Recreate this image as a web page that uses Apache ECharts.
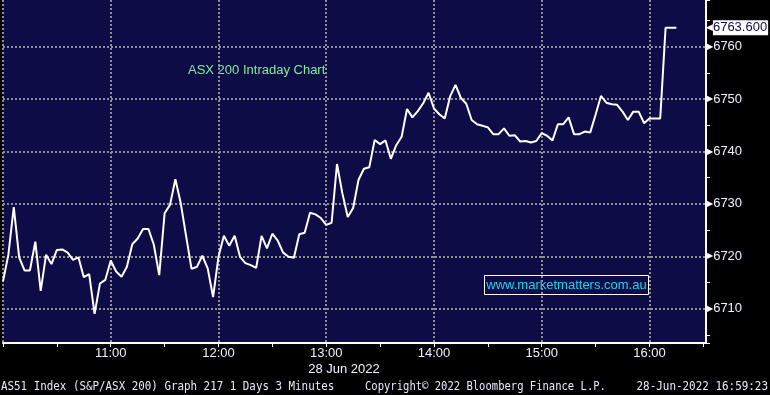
<!DOCTYPE html>
<html>
<head>
<meta charset="utf-8">
<script src="https://cdn.jsdelivr.net/npm/echarts@6/dist/echarts.min.js"></script>
<style>
html,body{margin:0;padding:0;background:#000;}
#chart{width:770px;height:395px;}
</style>
</head>
<body>
<div id="chart"></div>
<script>
// 3-minute bars, 28 Jun 2022
var times = [
'10:00','10:03','10:06','10:09','10:12','10:15','10:18','10:21','10:24','10:27',
'10:30','10:33','10:36','10:39','10:42','10:45','10:48','10:51','10:54','10:57',
'11:00','11:03','11:06','11:09','11:12','11:15','11:18','11:21','11:24','11:27',
'11:30','11:33','11:36','11:39','11:42','11:45','11:48','11:51','11:54','11:57',
'12:00','12:03','12:06','12:09','12:12','12:15','12:18','12:21','12:24','12:27',
'12:30','12:33','12:36','12:39','12:42','12:45','12:48','12:51','12:54','12:57',
'13:00','13:03','13:06','13:09','13:12','13:15','13:18','13:21','13:24','13:27',
'13:30','13:33','13:36','13:39','13:42','13:45','13:48','13:51','13:54','13:57',
'14:00','14:03','14:06','14:09','14:12','14:15','14:18','14:21','14:24','14:27',
'14:30','14:33','14:36','14:39','14:42','14:45','14:48','14:51','14:54','14:57',
'15:00','15:03','15:06','15:09','15:12','15:15','15:18','15:21','15:24','15:27',
'15:30','15:33','15:36','15:39','15:42','15:45','15:48','15:51','15:54','15:57',
'16:00','16:03','16:06','16:09','16:12','16:15'
];
var prices = [
6715.2,6720.3,6729.4,6719.8,6717.3,6717.3,6722.8,6713.4,6720.3,6718.5,
6721.2,6721.3,6720.7,6719.3,6719.8,6716.0,6716.6,6709.0,6714.8,6715.5,
6719.2,6717.1,6716.1,6718.0,6722.3,6723.4,6725.2,6725.2,6722.2,6716.4,
6728.2,6729.8,6734.7,6730.1,6723.8,6717.6,6718.0,6720.1,6717.7,6712.2,
6719.9,6723.9,6722.0,6723.9,6719.9,6718.7,6718.3,6717.8,6723.9,6721.5,
6724.3,6723.0,6720.7,6719.9,6719.7,6724.2,6724.5,6728.3,6728.0,6727.3,
6726.0,6726.4,6737.6,6732.0,6727.5,6729.2,6734.6,6736.7,6737.0,6742.2,
6741.4,6742.1,6738.6,6741.2,6742.8,6748.1,6746.5,6747.7,6749.2,6751.2,
6748.2,6747.1,6746.3,6750.5,6752.7,6750.2,6749.1,6746.0,6745.2,6744.9,
6744.6,6743.3,6743.3,6744.4,6743.0,6743.1,6741.9,6742.0,6741.7,6742.0,
6743.5,6743.0,6742.1,6745.2,6745.2,6746.5,6743.3,6743.3,6743.8,6743.6,
6747.0,6750.6,6749.3,6749.0,6748.9,6747.6,6746.0,6747.6,6747.6,6745.4,
6746.3,6746.3,6746.3,6763.6,6763.6,6763.6
];
var xStart = '10:00';
var xEnd = '16:31.5';
var yMin = 6703.45;
var yMax = 6768.9;
var titleText = 'ASX 200 Intraday Chart';
var watermarkText = 'www.marketmatters.com.au';
var dateText = '28 Jun 2022';
var footerLeft = 'AS51 Index (S&P/ASX 200) Graph 217 1 Days 3 Minutes';
var footerMid = 'Copyright\u00a9 2022 Bloomberg Finance L.P.';
var footerRight = '28-Jun-2022 16:59:23';

function toMin(t){ var p = t.split(':'); return (parseInt(p[0],10)-10)*60 + parseFloat(p[1]); }
function fmtHour(m){ var h = 10 + Math.round(m/60); return h + ':00'; }

var seriesData = times.map(function(t,i){ return [toMin(t), prices[i]]; });
var lastPrice = prices[prices.length-1];

var NAVY = '#0e0c46';
var GRIDC = '#8e8e96';
var FOOTFONT = '13px "DejaVu Sans Mono", monospace';
var chart = echarts.init(document.getElementById('chart'), null, {renderer:'canvas'});
chart.setOption({
  backgroundColor: '#000',
  animation: false,
  grid: {left:0, right:64, top:0, bottom:52, show:true, backgroundColor:NAVY, borderWidth:0, containLabel:false},
  xAxis: {
    type:'value', min: toMin(xStart), max: toMin(xEnd), interval: 30,
    axisLine:{show:true, onZero:false, lineStyle:{color:'#fff', width:2}},
    axisTick:{show:true, length:4, lineStyle:{color:'#fff', width:1}},
    axisLabel:{
      show:true, margin:4, color:'#eef3ff', fontSize:13, fontFamily:'Liberation Sans, Arial, sans-serif',
      showMaxLabel:false,
      formatter:function(v){ return (v>0 && v%60===0) ? fmtHour(v) : ''; }
    },
    splitLine:{show:true, showMaxLine:false, lineStyle:{color:[GRIDC,'rgba(0,0,0,0)'], width:2, type:[2,2]}}
  },
  yAxis: [{
    type:'value', position:'right', min:yMin, max:yMax,
    axisLine:{show:true, onZero:false, lineStyle:{color:'#fff', width:2}},
    axisTick:{show:false},
    axisLabel:{
      show:true, margin:1, showMinLabel:false, showMaxLabel:false,
      formatter:function(v){ return (Math.abs(v%10)<1e-6) ? '{a|\u25B6}{b|' + v + '}' : ''; },
      rich:{
        a:{color:'#fff', fontSize:8, fontFamily:'DejaVu Sans'},
        b:{color:'#eef3ff', fontSize:13, fontFamily:'Liberation Sans, Arial, sans-serif'}
      }
    },
    splitLine:{show:true, showMinLine:false, showMaxLine:false, lineStyle:{color:GRIDC, width:2, type:[2,2]}}
  }, {
    type:'value', position:'right', min:yMin, max:yMax, splitNumber:13,
    axisLine:{show:false, onZero:false},
    axisTick:{show:true, inside:false, length:4, lineStyle:{color:'#fff', width:1}},
    axisLabel:{show:false},
    splitLine:{show:false}
  }],
  series: [{
    type:'line', data: seriesData, yAxisIndex:0, showSymbol:false, symbol:'none',
    lineStyle:{color:'#fff', width:2},
    markLine:{
      silent:true, symbol:['none','none'], animation:false,
      lineStyle:{color:'rgba(0,0,0,0)', width:1, type:'solid'},
      label:{
        show:true, position:'end', distance:0,
        formatter:function(p){ return '{a|\u25C0}{b|' + Number(p.value).toFixed(3) + '}'; },
        rich:{
          a:{color:'#fff', fontSize:9, fontFamily:'DejaVu Sans'},
          b:{color:'#0e0c46', backgroundColor:'#fff', fontSize:13, fontFamily:'Liberation Sans, Arial, sans-serif', padding:[1,1,1,0], lineHeight:14}
        }
      },
      data:[{yAxis:lastPrice}]
    }
  }],
  graphic: [
    {type:'text', left:188, top:64, style:{text:titleText, fill:'#84ee9c', font:'13px "Liberation Sans", Arial, sans-serif'}},
    {type:'rect', shape:{x:484.5, y:275.5, width:164, height:19}, style:{fill:'none', stroke:'#fff', lineWidth:1}},
    {type:'text', x:566.5, y:285, style:{text:watermarkText, fill:'#1ad6e8', font:'13px "Liberation Sans", Arial, sans-serif', align:'center', verticalAlign:'middle'}},
    {type:'text', x:344, y:369, style:{text:dateText, fill:'#eef3ff', font:'13px "Liberation Sans", Arial, sans-serif', align:'center', verticalAlign:'middle'}},
    {type:'text', x:1, y:387, scaleX:0.835, scaleY:1, style:{text:footerLeft, fill:'#e6ecff', font:FOOTFONT, verticalAlign:'middle'}},
    {type:'text', x:365, y:387, scaleX:0.81, scaleY:1, style:{text:footerMid, fill:'#e6ecff', font:FOOTFONT, verticalAlign:'middle'}},
    {type:'text', x:768, y:387, scaleX:0.84, scaleY:1, style:{text:footerRight, fill:'#e6ecff', font:FOOTFONT, align:'right', verticalAlign:'middle'}}
  ]
});
</script>
</body>
</html>
